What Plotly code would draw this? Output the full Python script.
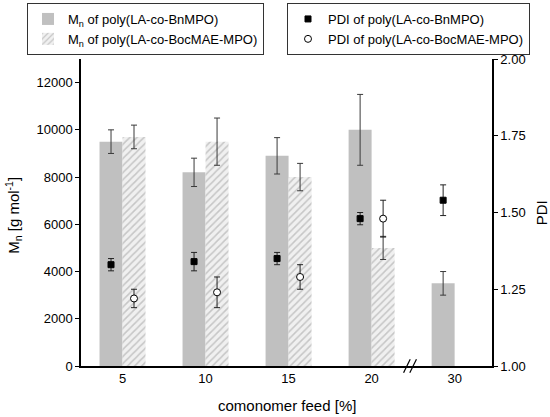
import plotly.graph_objects as go

categories = ["5", "10", "15", "20", "30"]
mn_bn = [9500, 8200, 8900, 10000, 3500]
mn_bn_err = [500, 600, 770, 1500, 500]
mn_boc = [9700, 9500, 8000, 5000, None]
mn_boc_err = [500, 1000, 580, 490, None]
pdi_bn = [1.33, 1.34, 1.35, 1.48, 1.54]
pdi_bn_err = [0.02, 0.03, 0.02, 0.02, 0.05]
pdi_boc = [1.22, 1.24, 1.29, 1.48, None]
pdi_boc_err = [0.03, 0.05, 0.04, 0.06, None]

FONT = "Arial, Liberation Sans, sans-serif"
ERRC = "#3a3a3a"

fig = go.Figure()
fig.add_trace(go.Bar(
    x=categories, y=mn_bn, name="M<sub>n</sub> of poly(LA-co-BnMPO)",
    marker=dict(color="#c0c0c0", line=dict(width=0)),
    error_y=dict(type="data", array=mn_bn_err, color=ERRC, thickness=1, width=3),
    legend="legend", offsetgroup="a",
))
fig.add_trace(go.Bar(
    x=categories, y=mn_boc, name="M<sub>n</sub> of poly(LA-co-BocMAE-MPO)",
    marker=dict(color="white", line=dict(width=0),
                pattern=dict(shape="/", fgcolor="#9c9c9c", bgcolor="#f0f0f0", size=5, solidity=0.3)),
    error_y=dict(type="data", array=mn_boc_err, color=ERRC, thickness=1, width=3),
    legend="legend", offsetgroup="b",
))
fig.add_trace(go.Scatter(
    x=categories, y=pdi_bn, name="PDI of poly(LA-co-BnMPO)", mode="markers", yaxis="y2",
    marker=dict(symbol="square", color="black", size=6, line=dict(color="black", width=1)),
    error_y=dict(type="data", array=pdi_bn_err, color="#222", thickness=1, width=3),
    legend="legend2", offsetgroup="a",
))
fig.add_trace(go.Scatter(
    x=categories, y=pdi_boc, name="PDI of poly(LA-co-BocMAE-MPO)", mode="markers", yaxis="y2",
    marker=dict(symbol="circle", color="white", size=7, line=dict(color="black", width=1)),
    error_y=dict(type="data", array=pdi_boc_err, color="#222", thickness=1, width=3),
    legend="legend2", offsetgroup="b",
))

# axis break marks between 20 and 30
for dx in (-0.075, 0.0):
    fig.add_shape(type="line", xref="x", yref="paper",
                  x0=3.46 + dx, x1=3.54 + dx, y0=-0.022, y1=0.022,
                  line=dict(color="black", width=1.2))

# axis titles as annotations
fig.add_annotation(text="M<sub>n</sub> [g mol<sup>-1</sup>]", xref="paper", yref="paper",
                   x=-0.165, y=0.49, xanchor="center", yanchor="middle", textangle=-90,
                   showarrow=False, font=dict(size=15))
fig.add_annotation(text="PDI", xref="paper", yref="paper",
                   x=1.121, y=0.5, xanchor="center", yanchor="middle", textangle=-90,
                   showarrow=False, font=dict(size=15))
fig.add_annotation(text="comonomer feed [%]", xref="paper", yref="paper",
                   x=0.5, y=-0.13, xanchor="center", yanchor="middle",
                   showarrow=False, font=dict(size=15))

fig.update_layout(
    width=550, height=417,
    margin=dict(l=81, r=58, t=59, b=51, autoexpand=False),
    plot_bgcolor="white", paper_bgcolor="white",
    font=dict(family=FONT, size=13, color="black"),
    barmode="group", bargap=0.446, bargroupgap=0,
    scattermode="group", scattergap=0.446,
    showlegend=True,
    xaxis=dict(
        type="category", range=[-0.5, 4.45], automargin=False,
        showline=True, linecolor="black", linewidth=1.5, ticks="",
        tickfont=dict(size=13),
    ),
    yaxis=dict(
        range=[0, 13000], tickvals=[0, 2000, 4000, 6000, 8000, 10000, 12000], tickformat="d",
        showline=True, linecolor="black", linewidth=1.5, ticks="outside", ticklen=4,
        tickcolor="black", showgrid=False, zeroline=False, automargin=False,
        tickfont=dict(size=13),
    ),
    yaxis2=dict(
        range=[1.0, 2.0], tickvals=[1.0, 1.25, 1.5, 1.75, 2.0], tickformat=".2f",
        overlaying="y", side="right", automargin=False,
        showline=True, linecolor="black", linewidth=1.5, ticks="outside", ticklen=4,
        tickcolor="black", showgrid=False, zeroline=False,
        tickfont=dict(size=13),
    ),
    legend=dict(
        xref="container", yref="container",
        x=27 / 550, y=1 - 3 / 417, xanchor="left", yanchor="top",
        bordercolor="#333333", borderwidth=1, bgcolor="white",
        font=dict(size=13), tracegroupgap=0, itemwidth=30,
    ),
    legend2=dict(
        xref="container", yref="container",
        x=287 / 550, y=1 - 3 / 417, xanchor="left", yanchor="top",
        bordercolor="#333333", borderwidth=1, bgcolor="white",
        font=dict(size=13), tracegroupgap=0, itemwidth=30,
    ),
)

fig.write_html("out.html", config={"displayModeBar": False},
               post_script="document.body.style.margin='0';")
